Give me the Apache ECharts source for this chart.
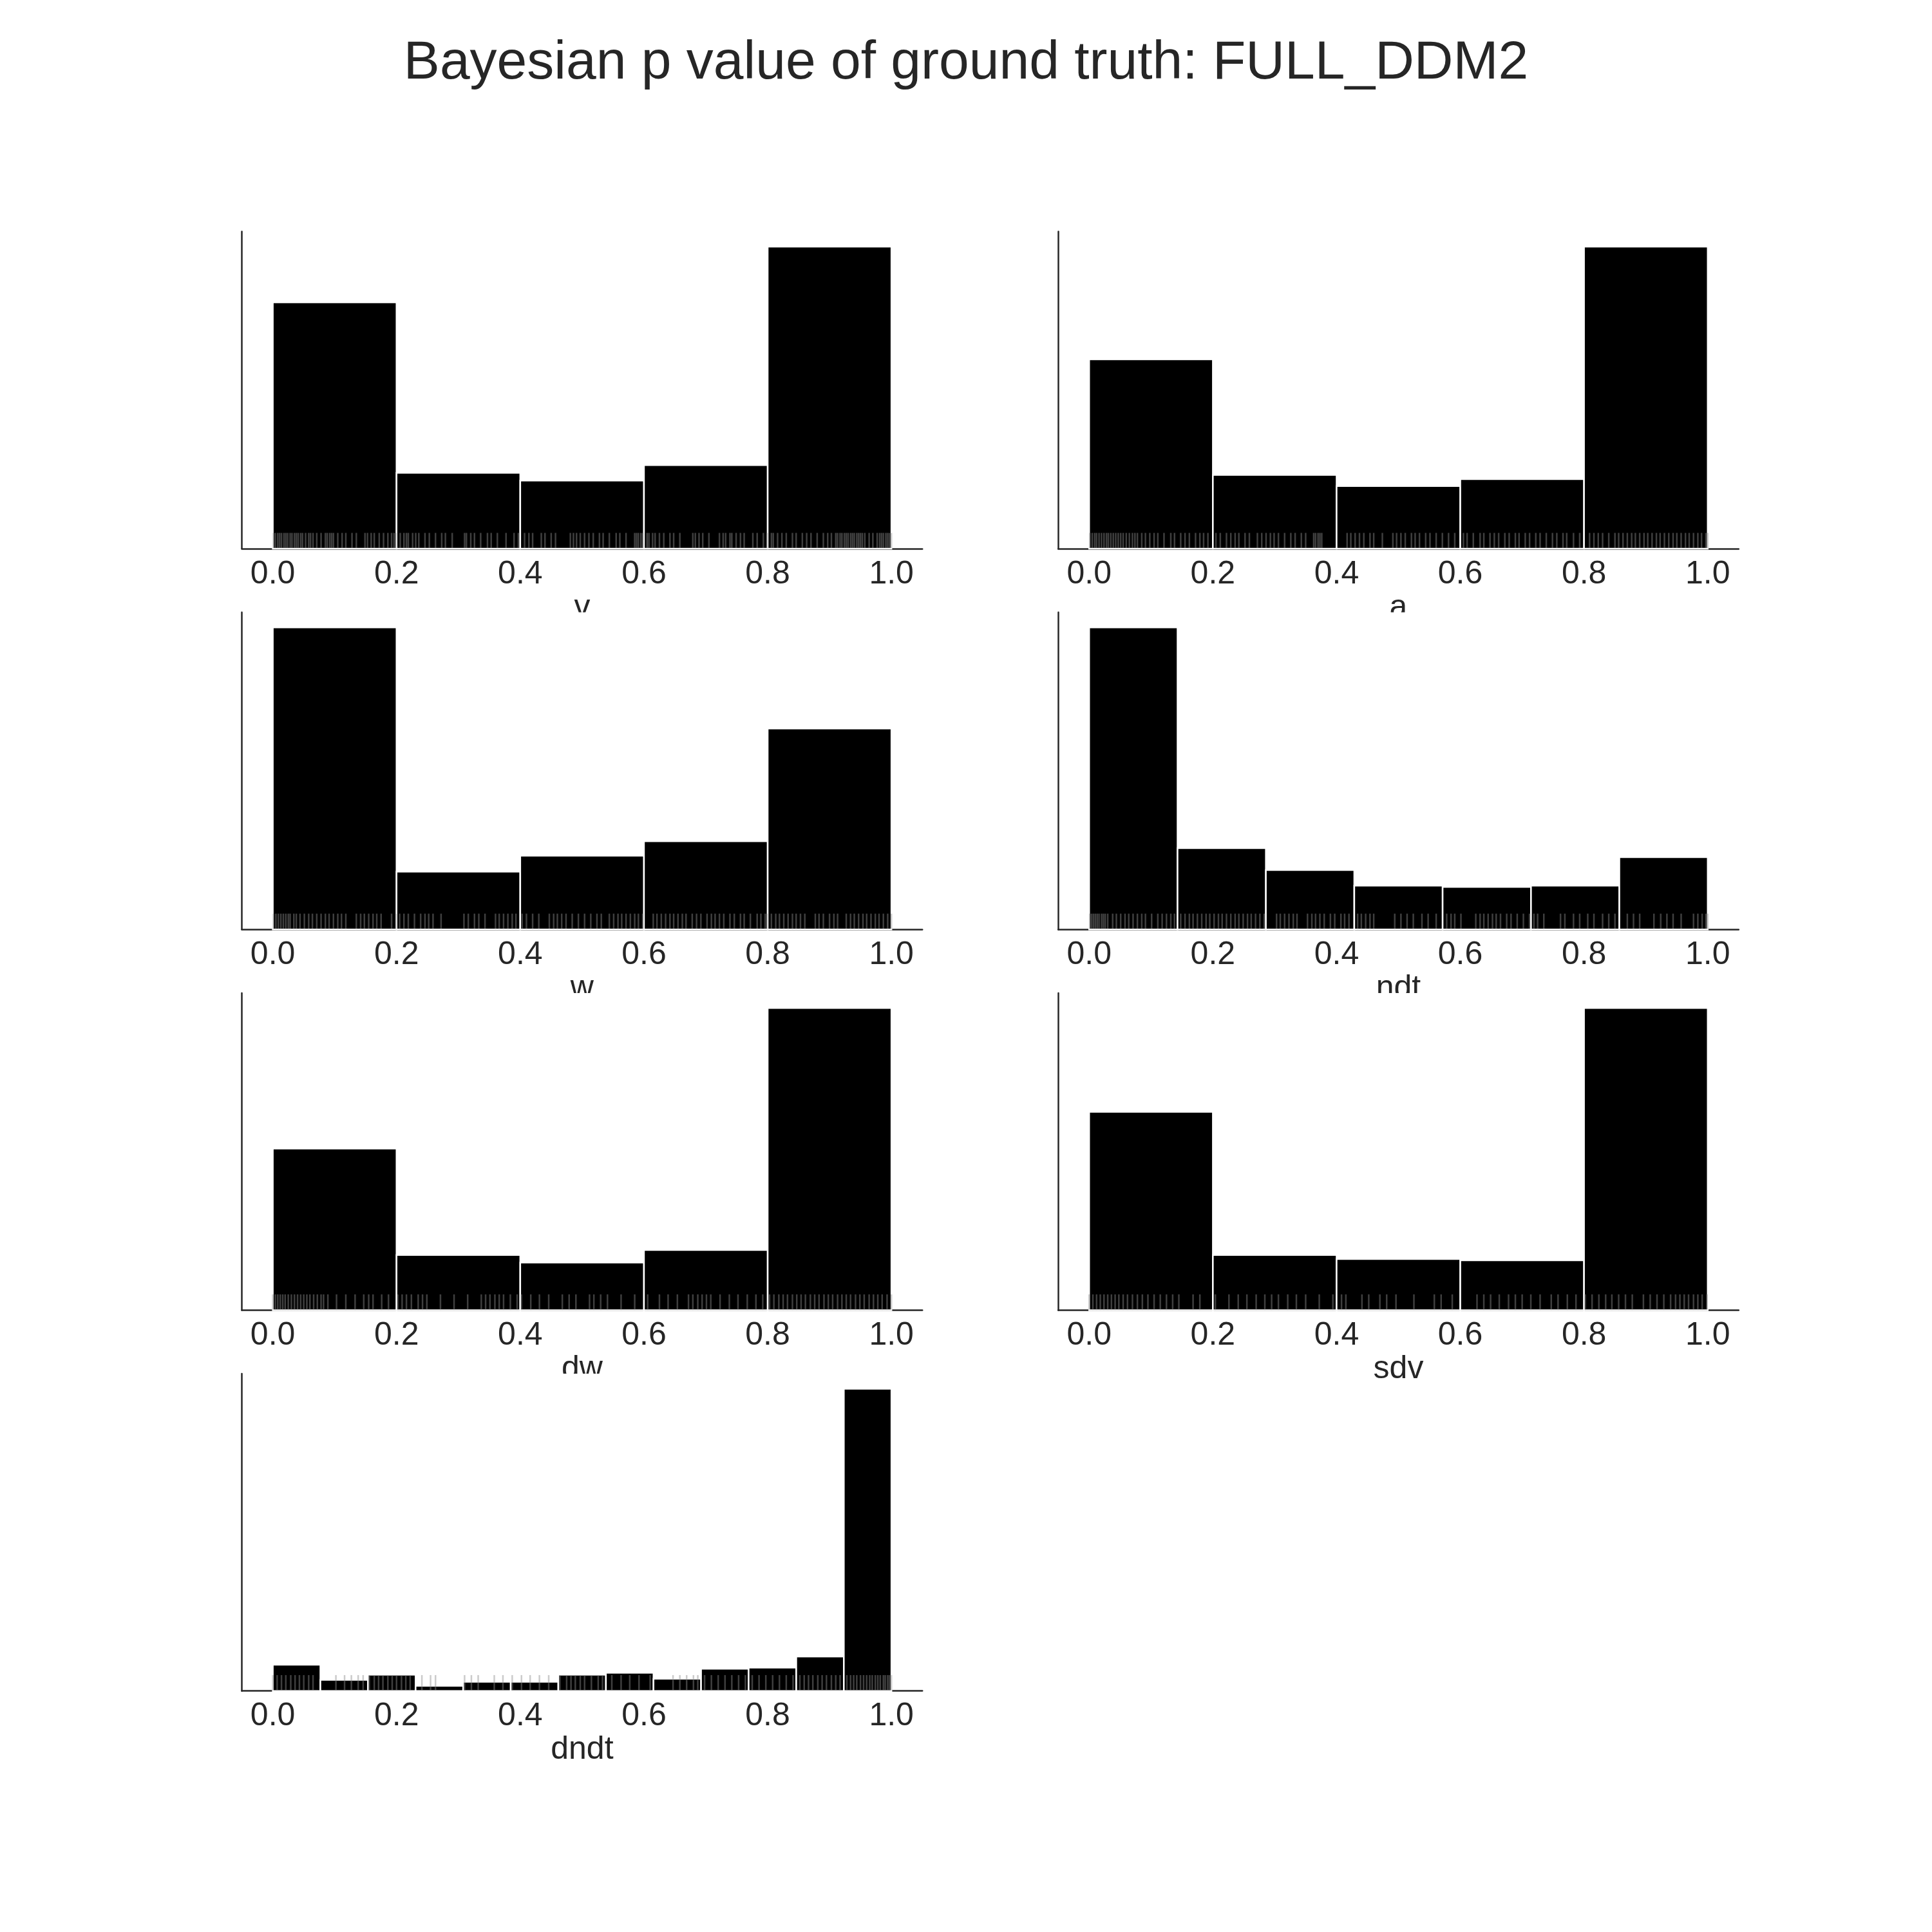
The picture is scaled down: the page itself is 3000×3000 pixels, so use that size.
<!DOCTYPE html>
<html>
<head>
<meta charset="utf-8">
<script src="https://cdn.jsdelivr.net/npm/echarts@6/dist/echarts.min.js"></script>
<style>html,body{margin:0;padding:0;background:#fff}#chart{width:3000px;height:3000px}</style>
</head>
<body>
<div id="chart"></div>
<script>
// ---------------- data ----------------
const titleText = 'Bayesian p value of ground truth: FULL_DDM2';
const panelNames = ['v', 'a', 'w', 'ndt', 'dw', 'sdv', 'dndt'];
const xTickValues = [0.0, 0.2, 0.4, 0.6, 0.8, 1.0];

const edges_v = [0, 0.2, 0.4, 0.6, 0.8, 1.0];
const counts_v = [159, 49, 44, 54, 195];
const edges_a = [0, 0.2, 0.4, 0.6, 0.8, 1.0];
const counts_a = [136, 53, 45, 50, 217];
const edges_w = [0, 0.2, 0.4, 0.6, 0.8, 1.0];
const counts_w = [209, 40, 51, 61, 139];
const edges_ndt = [0, 0.1429, 0.2857, 0.4286, 0.5714, 0.7143, 0.8571, 1.0];
const counts_ndt = [234, 63, 46, 34, 33, 34, 56];
const edges_dw = [0, 0.2, 0.4, 0.6, 0.8, 1.0];
const counts_dw = [129, 44, 38, 48, 241];
const edges_sdv = [0, 0.2, 0.4, 0.6, 0.8, 1.0];
const counts_sdv = [151, 42, 39, 38, 230];
const edges_dndt = [0, 0.0769, 0.1538, 0.2308, 0.3077, 0.3846, 0.4615, 0.5385, 0.6154, 0.6923, 0.7692, 0.8462, 0.9231, 1.0];
const counts_dndt = [26, 11, 16, 5, 9, 9, 16, 18, 12, 22, 23, 34, 299];

const rug_v = [0.001,0.004,0.008,0.011,0.014,0.018,0.021,0.024,0.028,0.031,0.035,0.038,0.041,0.045,0.048,0.053,0.058,0.061,0.065,0.071,0.078,0.085,0.088,0.092,0.095,0.098,0.105,0.112,0.118,0.128,0.135,0.149,0.153,0.159,0.164,0.172,0.179,0.186,0.192,0.196,0.199,
0.206,0.212,0.216,0.219,0.226,0.231,0.236,0.246,0.253,0.263,0.273,0.279,0.290,0.310,0.313,0.320,0.326,0.336,0.347,0.353,0.363,0.377,0.390,0.397,
0.407,0.414,0.420,0.434,0.440,0.450,0.457,0.481,0.486,0.491,0.497,0.504,0.511,0.518,0.528,0.534,0.544,0.555,0.561,0.571,0.585,0.588,0.591,0.595,0.598,
0.605,0.608,0.614,0.618,0.625,0.632,0.642,0.648,0.658,0.679,0.683,0.689,0.695,0.705,0.722,0.728,0.732,0.739,0.742,0.749,0.756,0.762,0.776,0.783,0.793,0.799,
0.806,0.809,0.816,0.823,0.830,0.840,0.846,0.856,0.863,0.870,0.880,0.890,0.897,0.903,0.910,0.913,0.917,0.920,0.924,0.927,0.930,0.934,0.937,0.940,0.944,0.947,0.950,0.953,0.957,0.964,0.970,0.977,0.981,0.984,0.987,0.991,0.994,0.997,1.000];

const rug_a = [0.001,0.005,0.009,0.012,0.016,0.020,0.024,0.028,0.031,0.035,0.039,0.043,0.047,0.051,0.055,0.060,0.065,0.070,0.074,0.078,
0.085,0.091,0.098,0.105,0.111,0.121,0.132,0.138,0.148,0.155,0.162,0.172,0.179,0.185,0.192,
0.205,0.212,0.222,0.229,0.236,0.242,0.252,0.259,0.272,0.279,0.286,0.293,0.299,0.306,0.316,0.326,0.333,0.343,0.350,0.363,0.366,0.370,0.373,0.376,
0.417,0.423,0.430,0.437,0.444,0.454,0.460,0.474,0.491,0.497,0.504,0.511,0.521,0.527,0.534,0.544,0.551,0.561,0.571,0.581,0.591,
0.605,0.611,0.621,0.632,0.638,0.648,0.655,0.662,0.672,0.679,0.689,0.695,0.705,0.712,0.722,0.729,0.739,0.749,0.756,0.766,0.772,0.783,0.793,
0.809,0.816,0.823,0.830,0.840,0.850,0.856,0.863,0.870,0.877,0.883,0.890,0.897,0.903,0.910,0.917,0.923,0.930,0.937,0.944,0.950,0.957,0.964,0.970,0.977,0.984,0.990,0.997,1.000];

const rug_w = [0.001,0.005,0.009,0.013,0.017,0.021,0.025,0.028,0.034,0.038,0.044,0.051,0.058,0.064,0.071,0.078,0.085,0.091,0.098,0.105,0.111,0.118,0.135,0.142,0.148,0.155,0.162,0.168,0.175,0.192,0.199,
0.205,0.212,0.219,0.229,0.239,0.246,0.252,0.259,0.272,0.309,0.316,0.326,0.333,0.343,0.360,0.366,0.373,0.380,0.387,0.393,
0.403,0.410,0.420,0.430,0.447,0.454,0.460,0.467,0.474,0.484,0.494,0.504,0.514,0.524,0.531,0.544,0.551,0.558,0.564,0.571,0.578,0.585,0.591,0.598,
0.615,0.621,0.628,0.635,0.642,0.648,0.655,0.662,0.668,0.678,0.685,0.692,0.702,0.709,0.715,0.722,0.729,0.739,0.746,0.756,0.762,0.772,0.783,0.789,0.796,0.799,
0.806,0.813,0.819,0.826,0.833,0.840,0.846,0.853,0.860,0.877,0.883,0.890,0.900,0.907,0.913,0.927,0.934,0.940,0.947,0.954,0.960,0.967,0.974,0.980,0.987,0.994,1.000];

const rug_ndt = [0.001,0.004,0.007,0.010,0.013,0.016,0.020,0.023,0.026,0.030,0.038,0.044,0.051,0.058,0.064,0.071,0.078,0.085,0.091,0.101,0.111,0.118,0.125,0.132,0.138,
0.148,0.155,0.162,0.168,0.175,0.182,0.189,0.195,0.202,0.209,0.215,0.222,0.229,0.236,0.242,0.249,0.256,0.262,0.269,0.276,0.283,
0.303,0.309,0.316,0.323,0.330,0.336,0.353,0.360,0.366,0.373,0.380,0.390,0.397,0.407,0.413,0.420,
0.434,0.440,0.447,0.454,0.460,0.494,0.504,0.514,0.524,0.538,0.548,0.561,
0.578,0.585,0.591,0.601,0.625,0.632,0.638,0.645,0.652,0.658,0.665,0.675,0.682,0.692,0.702,0.712,
0.719,0.725,0.735,0.762,0.769,0.783,0.793,0.806,0.816,0.830,0.840,0.850,
0.870,0.880,0.890,0.913,0.924,0.934,0.944,0.957,0.977,0.984,0.991,0.997,1.000];

const rug_dw = [0.000,0.004,0.008,0.012,0.016,0.020,0.025,0.030,0.035,0.040,0.045,0.050,0.055,0.060,0.066,0.072,0.078,0.082,
0.089,0.103,0.118,0.133,0.147,0.155,0.162,0.176,0.187,
0.202,0.209,0.216,0.224,0.235,0.242,0.249,0.271,0.293,0.315,0.337,0.344,0.351,0.359,0.366,0.373,0.384,0.395,
0.402,0.417,0.431,0.446,0.468,0.479,0.490,0.512,0.519,0.530,0.541,0.563,0.585,
0.606,0.625,0.639,0.654,0.672,0.679,0.687,0.694,0.701,0.708,0.723,0.738,0.752,0.767,0.781,0.792,
0.803,0.810,0.818,0.825,0.832,0.840,0.847,0.854,0.861,0.869,0.876,0.883,0.891,0.898,0.905,0.913,0.920,0.927,0.934,0.942,0.949,0.956,0.964,0.971,0.978,0.985,0.993,1.000];

const rug_sdv = [0.000,0.006,0.012,0.018,0.024,0.030,0.036,0.042,0.048,0.055,0.062,0.070,0.078,0.086,0.095,0.105,0.115,0.125,0.135,0.145,
0.168,0.179,0.204,0.226,0.241,0.255,0.270,0.284,0.295,0.306,0.321,0.335,0.350,0.372,0.394,0.408,0.415,
0.441,0.452,0.470,0.481,0.496,0.525,0.558,0.569,0.587,
0.627,0.638,0.649,0.663,0.678,0.689,0.700,0.714,0.729,0.747,0.758,0.773,0.787,
0.802,0.813,0.824,0.835,0.845,0.856,0.867,0.878,0.896,0.907,0.918,0.929,0.940,0.948,0.955,0.962,0.969,0.977,0.984,0.991,0.999];

const rug_dndt = [0.000,0.007,0.014,0.021,0.029,0.036,0.043,0.050,0.058,0.065,
0.102,0.116,0.127,0.138,0.146,
0.156,0.164,0.171,0.178,0.186,0.193,0.200,0.208,0.215,0.222,
0.241,0.255,0.263,
0.310,0.321,0.332,0.358,0.372,0.387,0.402,0.416,0.431,0.446,
0.464,0.475,0.482,0.489,0.497,0.504,0.515,0.526,0.533,
0.548,0.563,0.577,0.592,0.610,
0.647,0.658,0.669,0.680,0.687,
0.698,0.709,0.720,0.731,0.742,0.753,0.764,
0.775,0.786,0.797,0.808,0.819,0.830,0.841,
0.852,0.859,0.866,0.873,0.881,0.888,0.895,0.903,0.910,0.917,
0.928,0.934,0.939,0.944,0.950,0.955,0.960,0.965,0.969,0.974,0.978,0.982,0.987,0.990,0.994,0.997,1.000];

// ---------------- layout / style ----------------
const panels = [
  {name: 'v',    edges: edges_v,    counts: counts_v,    rug: rug_v,    row: 0, col: 0},
  {name: 'a',    edges: edges_a,    counts: counts_a,    rug: rug_a,    row: 0, col: 1},
  {name: 'w',    edges: edges_w,    counts: counts_w,    rug: rug_w,    row: 1, col: 0},
  {name: 'ndt',  edges: edges_ndt,  counts: counts_ndt,  rug: rug_ndt,  row: 1, col: 1},
  {name: 'dw',   edges: edges_dw,   counts: counts_dw,   rug: rug_dw,   row: 2, col: 0},
  {name: 'sdv',  edges: edges_sdv,  counts: counts_sdv,  rug: rug_sdv,  row: 2, col: 1},
  {name: 'dndt', edges: edges_dndt, counts: counts_dndt, rug: rug_dndt, row: 3, col: 0}
];
const FONT = '"Liberation Sans", Arial, Helvetica, sans-serif';
const TXT = '#262626';
const AX = '#262626';
const colLeft = [375.6, 1643.2];
const gridW = 1056.6;
const rowTop = [359.5, 950.7, 1541.9, 2133.1];
const gridH = 492.6;

const grids = [], xAxes = [], yAxes = [], series = [], graphics = [];

panels.forEach((p, i) => {
  const left = colLeft[p.col], top = rowTop[p.row];
  grids.push({left: left, top: top, width: gridW, height: gridH, containLabel: false});
  xAxes.push({
    gridIndex: i, type: 'value', min: -0.05, max: 1.05,
    name: p.name, nameLocation: 'middle', nameGap: 67,
    nameTextStyle: {fontSize: 50, color: TXT, fontFamily: FONT, lineHeight: 50},
    axisLine: {show: true, onZero: false, lineStyle: {color: AX, width: 2.5}},
    axisTick: {show: false},
    splitLine: {show: false},
    axisLabel: {
      customValues: xTickValues,
      formatter: v => Number(v).toFixed(1),
      fontSize: 50, color: TXT, fontFamily: FONT, margin: 15, lineHeight: 50
    }
  });
  yAxes.push({
    gridIndex: i, type: 'value', min: 0, max: Math.max(...p.counts) * 1.05,
    axisLine: {show: true, onZero: false, lineStyle: {color: AX, width: 2.5}},
    axisTick: {show: false}, axisLabel: {show: false}, splitLine: {show: false}
  });
  const histData = p.counts.map((c, k) => [p.edges[k], p.edges[k + 1], c]);
  series.push({
    type: 'custom', xAxisIndex: i, yAxisIndex: i, data: histData,
    encode: {x: [0, 1], y: 2}, z: 2,
    renderItem: (params, api) => {
      const a = api.coord([api.value(0), api.value(2)]);
      const b = api.coord([api.value(1), 0]);
      return {type: 'rect', shape: {x: a[0], y: a[1], width: b[0] - a[0], height: b[1] - a[1]},
              style: {fill: '#000000', stroke: '#ffffff', lineWidth: 2.5}};
    }
  });
  series.push({
    type: 'custom', xAxisIndex: i, yAxisIndex: i, data: p.rug.map(v => [v]),
    encode: {x: 0}, z: 3,
    renderItem: (params, api) => {
      const q = api.coord([api.value(0), 0]);
      const h = params.coordSys.height * 0.05;
      return {type: 'line', shape: {x1: q[0], y1: q[1] - 1, x2: q[0], y2: q[1] - h},
              style: {stroke: 'rgba(140,140,140,0.45)', lineWidth: 2.5}};
    }
  });
  // axes of the panel below cover the lower part of this panel's x label (as in the reference)
  const below = panels.find(o => o.col === p.col && o.row === p.row + 1);
  if (below) {
    graphics.push({type: 'rect', left: left + gridW * 0.3, top: rowTop[p.row + 1],
                   shape: {width: gridW * 0.4, height: 20}, style: {fill: '#ffffff'}, z: 100});
  }
});

const chart = echarts.init(document.getElementById('chart'), null, {renderer: 'canvas'});
chart.setOption({
  animation: false,
  backgroundColor: '#ffffff',
  title: {text: titleText, left: 'center', top: 52,
          textStyle: {fontSize: 84, fontWeight: 'normal', color: TXT, fontFamily: FONT, lineHeight: 84}},
  grid: grids, xAxis: xAxes, yAxis: yAxes, series: series, graphic: graphics
});
</script>
</body>
</html>
